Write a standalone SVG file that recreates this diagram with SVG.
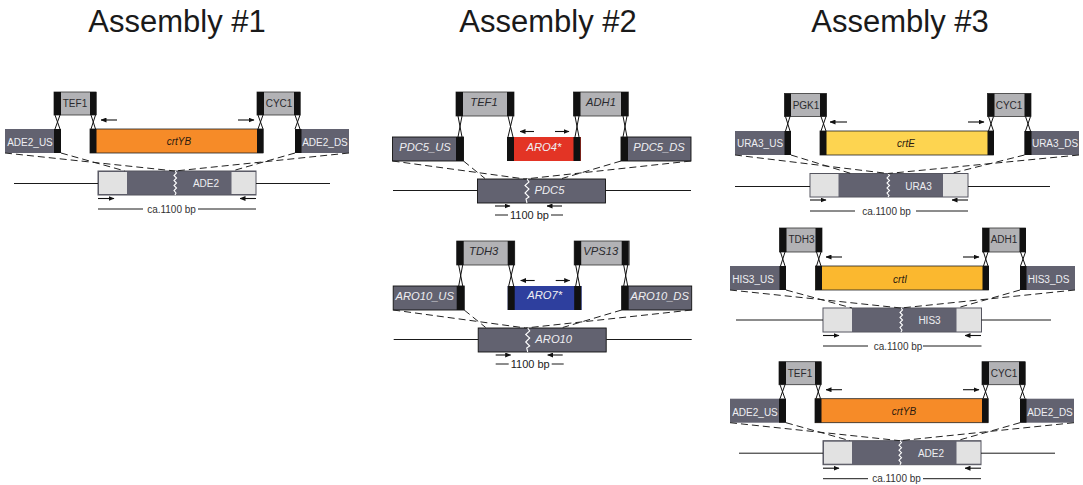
<svg xmlns="http://www.w3.org/2000/svg" width="1083" height="485" viewBox="0 0 1083 485">
<style>
text{font-family:"Liberation Sans",Arial,sans-serif;text-anchor:middle}
.t{font-size:31px;fill:#1a1a1a}
.l{font-size:10px;fill:#2a2a2e}
.w{font-size:10px;fill:#eeeef2}
.i{font-size:11.2px;font-style:italic}
.g{font-size:10px;font-style:italic;fill:#2a1a10}
.s{font-size:10px;fill:#333}
.b{font-size:11px;fill:#222}
.pr{fill:#b2b2b5;stroke:#333;stroke-width:.8}
.us{fill:#626270}
.ub{fill:#626270;stroke:#111;stroke-width:.9}
.cap{fill:#111}
.lo{fill:#626270;stroke:#55555f;stroke-width:1}
.lg{fill:#e2e2e2}
.gb{stroke:#222;stroke-width:.8}
.ln{fill:none;stroke:#1a1a1a;stroke-width:1}
.ar{fill:none;stroke:#111;stroke-width:1.1;marker-end:url(#h)}
.x{fill:none;stroke:#111;stroke-width:1}
.d{fill:none;stroke:#222;stroke-width:1;stroke-dasharray:7 4}
.z{fill:none;stroke:#fff;stroke-width:1.1}
</style>
<defs>
<marker id="h" markerUnits="userSpaceOnUse" markerWidth="6" markerHeight="5" refX="5.5" refY="2.5" orient="auto"><path d="M0 0L6 2.5L0 5Z" fill="#111"/></marker>
</defs>
<text class="t" x="177" y="32">Assembly #1</text>
<text class="t" x="548" y="32">Assembly #2</text>
<text class="t" x="900" y="32">Assembly #3</text>

<g id="asm1-ade2">
<g id="a1-tef1"><rect class="pr" x="54" y="92" width="42" height="23"/><rect class="cap" x="54" y="92" width="7" height="23"/><rect class="cap" x="90" y="92" width="6.500" height="23"/><text class="l" x="75" y="107">TEF1</text></g>
<g id="a1-cyc1"><rect class="pr" x="257" y="92" width="43" height="23"/><rect class="cap" x="257" y="92" width="7" height="23"/><rect class="cap" x="294" y="92" width="6.500" height="23"/><text class="l" x="279" y="107">CYC1</text></g>
<g id="a1-us"><rect class="us" x="5" y="129" width="56" height="24"/><rect class="cap" x="54" y="129" width="7" height="24"/><text class="w" x="30" y="146">ADE2_US</text></g>
<g id="a1-gene"><rect x="90" y="129" width="173" height="24" fill="#f68b28" class="gb"/><rect class="cap" x="90" y="129" width="6.500" height="24"/><rect class="cap" x="257" y="129" width="6.500" height="24"/><text class="g" x="179" y="145">crtYB</text></g>
<g id="a1-ds"><rect class="us" x="295" y="129" width="54" height="24"/><rect class="cap" x="295" y="129" width="6.500" height="24"/><text class="w" x="325" y="146">ADE2_DS</text></g>
<g id="a1-locus"><rect class="lo" x="98" y="171" width="158" height="24"/><rect class="lg" x="99" y="172" width="28" height="22"/><rect class="lg" x="231.500" y="172" width="24" height="22"/><polyline class="z" points="175,171 176.500,173 174,175.500 176.500,178 174,180.500 176.500,183 174,185.500 176.500,188 174,190.500 176,193 175,195"/><text class="w" x="206" y="187">ADE2</text></g>
<g id="a1-connectors">
<path class="ln" d="M14 183.500H98M256 183.500H330M98 209H143M198 209H256"/>
<path class="x" d="M55 115L60 129M60 115L55 129M91 115L95.500 129M95.500 115L91 129M258 115L263 129M263 115L258 129M295 115L300 129M300 115L295 129"/>
<path class="d" d="M5 153L175 171M61 153L125 171M349 153L175 171M295 153L232 171"/>
<path class="ar" d="M117 120H101"/><path class="ar" d="M238 120H254"/><path class="ar" d="M98 198.500H114"/><path class="ar" d="M256 198.500H240"/>
</g>
<text class="s" x="171.500" y="212.500">ca.1100 bp</text>
</g>

<g id="asm2-pdc5">
<g id="a2-tef1"><rect class="pr" x="456" y="92" width="58" height="24"/><rect class="cap" x="456" y="92" width="7" height="24"/><rect class="cap" x="507" y="92" width="7" height="24"/><text class="l i" x="484" y="106">TEF1</text></g>
<g id="a2-adh1"><rect class="pr" x="573.500" y="92" width="55" height="24"/><rect class="cap" x="573.500" y="92" width="7" height="24"/><rect class="cap" x="621" y="92" width="7" height="24"/><text class="l i" x="601" y="106">ADH1</text></g>
<g id="a2-us"><rect class="ub" x="392.500" y="137" width="71" height="24"/><rect class="cap" x="456" y="137" width="7.500" height="24"/><text class="w i" x="425" y="151">PDC5_US</text></g>
<g id="a2-gene"><rect x="507" y="137" width="74" height="24" fill="#e33425"/><rect class="cap" x="507" y="137" width="7" height="24"/><rect class="cap" x="573.500" y="137" width="7" height="24"/><text class="w i" x="544" y="151">ARO4*</text></g>
<g id="a2-ds"><rect class="ub" x="621" y="137" width="70" height="24"/><rect class="cap" x="621" y="137" width="7" height="24"/><text class="w i" x="659" y="151">PDC5_DS</text></g>
<g id="a2-locus"><rect class="ub" x="477.500" y="179" width="128" height="24"/><polyline class="z" points="527,179 529,182 525,185.500 529,189 525,193 529,197 526,199 527,203"/><text class="w i" x="549.500" y="194">PDC5</text></g>
<g id="a2-connectors">
<path class="ln" d="M393 190.500H477.500M605.500 190.500H691M495 215H508M551 215H563"/>
<path class="x" d="M458 116L462 137M462 116L458 137M508 116L513 137M513 116L508 137M575 116L579 137M579 116L575 137M623 116L627 137M627 116L623 137"/>
<path class="d" d="M392.500 161L525 179M463.500 161L485 178.500M691 161L525 179M621 161L562 178.500"/>
<path class="ar" d="M534 131.500H520"/><path class="ar" d="M555 131.500H569"/><path class="ar" d="M495 206H510"/><path class="ar" d="M562 206H547"/>
</g>
<text class="b" x="529.500" y="219">1100 bp</text>
</g>

<g id="asm2-aro10" transform="translate(0.700,149)">
<g id="b2-tdh3"><rect class="pr" x="456" y="92" width="58" height="24"/><rect class="cap" x="456" y="92" width="7" height="24"/><rect class="cap" x="507" y="92" width="7" height="24"/><text class="l i" x="483" y="106">TDH3</text></g>
<g id="b2-vps13"><rect class="pr" x="573.500" y="92" width="55" height="24"/><rect class="cap" x="573.500" y="92" width="7" height="24"/><rect class="cap" x="621" y="92" width="7" height="24"/><text class="l i" x="600" y="106">VPS13</text></g>
<g id="b2-us"><rect class="ub" x="392.500" y="137" width="71" height="24"/><rect class="cap" x="456" y="137" width="7.500" height="24"/><text class="w i" x="424" y="151">ARO10_US</text></g>
<g id="b2-gene"><rect x="507" y="137" width="74" height="24" fill="#2e3f9e"/><rect class="cap" x="507" y="137" width="7" height="24"/><rect class="cap" x="573.500" y="137" width="7" height="24"/><text class="w i" x="544" y="150">ARO7*</text></g>
<g id="b2-ds"><rect class="ub" x="621" y="137" width="70" height="24"/><rect class="cap" x="621" y="137" width="7" height="24"/><text class="w i" x="659" y="151">ARO10_DS</text></g>
<g id="b2-locus"><rect class="ub" x="477.500" y="179" width="128" height="24"/><polyline class="z" points="527,179 529,182 525,185.500 529,189 525,193 529,197 526,199 527,203"/><text class="w i" x="553" y="194">ARO10</text></g>
<g id="b2-connectors">
<path class="ln" d="M393 190.500H477.500M605.500 190.500H691M495 215H508M551 215H563"/>
<path class="x" d="M458 116L462 137M462 116L458 137M508 116L513 137M513 116L508 137M575 116L579 137M579 116L575 137M623 116L627 137M627 116L623 137"/>
<path class="d" d="M392.500 161L525 179M463.500 161L485 178.500M691 161L525 179M621 161L562 178.500"/>
<path class="ar" d="M534 131.500H520"/><path class="ar" d="M555 131.500H569"/><path class="ar" d="M495 206H510"/><path class="ar" d="M562 206H547"/>
</g>
<text class="b" x="529.500" y="219">1100 bp</text>
</g>

<g id="asm3-ura3">
<g id="c3-pgk1"><rect class="pr" x="784.500" y="93.500" width="42" height="23"/><rect class="cap" x="784.500" y="93.500" width="6.500" height="23"/><rect class="cap" x="820" y="93.500" width="6.500" height="23"/><text class="l" x="806" y="108.500">PGK1</text></g>
<g id="c3-cyc1"><rect class="pr" x="987.500" y="93.500" width="43.500" height="23"/><rect class="cap" x="987.500" y="93.500" width="7" height="23"/><rect class="cap" x="1024.500" y="93.500" width="6.500" height="23"/><text class="l" x="1009" y="108.500">CYC1</text></g>
<g id="c3-us"><rect class="us" x="735" y="131" width="56" height="24"/><rect class="cap" x="784.500" y="131" width="6.500" height="24"/><text class="w" x="760" y="147">URA3_US</text></g>
<g id="c3-gene"><rect x="820" y="131" width="173.500" height="24" fill="#fdd450" class="gb"/><rect class="cap" x="820" y="131" width="6.500" height="24"/><rect class="cap" x="987.500" y="131" width="6.500" height="24"/><text class="g" x="906" y="147">crtE</text></g>
<g id="c3-ds"><rect class="us" x="1024.500" y="131" width="54.500" height="24"/><rect class="cap" x="1024.500" y="131" width="7" height="24"/><text class="w" x="1055" y="147">URA3_DS</text></g>
<g id="c3-locus"><rect class="lo" x="810" y="173.500" width="158" height="23.500"/><rect class="lg" x="810.500" y="174" width="28" height="22.500"/><rect class="lg" x="943" y="174" width="24.500" height="22.500"/><polyline class="z" points="888,173.500 889.500,175.500 887,178 889.500,180.500 887,183 889.500,185.500 887,188 889.500,190.500 887,193 889,195.500 888,197"/><text class="w" x="918.500" y="189.500">URA3</text></g>
<g id="c3-connectors">
<path class="ln" d="M735 186.500H810M968 186.500H1050M810 211H855M916 211H968"/>
<path class="x" d="M785.500 116.500L790 131M790 116.500L785.500 131M821 116.500L826 131M826 116.500L821 131M988.500 116.500L993.500 131M993.500 116.500L988.500 131M1025.500 116.500L1030.500 131M1030.500 116.500L1025.500 131"/>
<path class="d" d="M735 155L888 173.500M791 155L851 173.500M1079 155L888 173.500M1024.500 155L951 173.500"/>
<path class="ar" d="M847 122H830"/><path class="ar" d="M968 122H984"/><path class="ar" d="M810 200H826"/><path class="ar" d="M968 200H952"/>
</g>
<text class="s" x="886.500" y="214.500">ca.1100 bp</text>
</g>

<g id="asm3-his3">
<g id="d3-tdh3"><rect class="pr" x="779.500" y="228" width="42.500" height="24"/><rect class="cap" x="779.500" y="228" width="7" height="24"/><rect class="cap" x="815.500" y="228" width="6.500" height="24"/><text class="l" x="801.500" y="243">TDH3</text></g>
<g id="d3-adh1"><rect class="pr" x="982.500" y="228" width="43" height="24"/><rect class="cap" x="982.500" y="228" width="7" height="24"/><rect class="cap" x="1019.500" y="228" width="6.500" height="24"/><text class="l" x="1004" y="243">ADH1</text></g>
<g id="d3-us"><rect class="us" x="730" y="266" width="56" height="24"/><rect class="cap" x="779.500" y="266" width="6.500" height="24"/><text class="w" x="753" y="283">HIS3_US</text></g>
<g id="d3-gene"><rect x="815.500" y="266" width="173" height="24" fill="#fbb82f" class="gb"/><rect class="cap" x="815.500" y="266" width="6.500" height="24"/><rect class="cap" x="982.500" y="266" width="6.500" height="24"/><text class="g" x="900" y="283">crtI</text></g>
<g id="d3-ds"><rect class="us" x="1020" y="266" width="55" height="24"/><rect class="cap" x="1020" y="266" width="6.500" height="24"/><text class="w" x="1048.500" y="283">HIS3_DS</text></g>
<g id="d3-locus"><rect class="lo" x="823" y="308" width="158.500" height="24"/><rect class="lg" x="823.500" y="308.500" width="28.500" height="23"/><rect class="lg" x="956.500" y="308.500" width="24.500" height="23"/><polyline class="z" points="901,308 902.500,310 900,312.500 902.500,315 900,317.500 902.500,320 900,322.500 902.500,325 900,327.500 902,330 901,332"/><text class="w" x="929.500" y="324">HIS3</text></g>
<g id="d3-connectors">
<path class="ln" d="M736 320H823M981.500 320H1051M823 346H868M923 346H981.500"/>
<path class="x" d="M780.500 252L785 266M785 252L780.500 266M816.500 252L821 266M821 252L816.500 266M983.500 252L988 266M988 252L983.500 266M1020.500 252L1025.500 266M1025.500 252L1020.500 266"/>
<path class="d" d="M730 290L901 308M786 290L852 308M1075 290L901 308M1020 290L957 308"/>
<path class="ar" d="M842 257H826"/><path class="ar" d="M963 257H979"/><path class="ar" d="M823 335.500H839"/><path class="ar" d="M981 335.500H965"/>
</g>
<text class="s" x="898" y="349.500">ca.1100 bp</text>
</g>

<g id="asm3-ade2" transform="translate(725,269.700)">
<g id="e3-tef1"><rect class="pr" x="54" y="92" width="42" height="23"/><rect class="cap" x="54" y="92" width="7" height="23"/><rect class="cap" x="90" y="92" width="6.500" height="23"/><text class="l" x="75" y="107">TEF1</text></g>
<g id="e3-cyc1"><rect class="pr" x="257" y="92" width="43" height="23"/><rect class="cap" x="257" y="92" width="7" height="23"/><rect class="cap" x="294" y="92" width="6.500" height="23"/><text class="l" x="279" y="107">CYC1</text></g>
<g id="e3-us"><rect class="us" x="5" y="129" width="56" height="24"/><rect class="cap" x="54" y="129" width="7" height="24"/><text class="w" x="30" y="146">ADE2_US</text></g>
<g id="e3-gene"><rect x="90" y="129" width="173" height="24" fill="#f68b28" class="gb"/><rect class="cap" x="90" y="129" width="6.500" height="24"/><rect class="cap" x="257" y="129" width="6.500" height="24"/><text class="g" x="179" y="145">crtYB</text></g>
<g id="e3-ds"><rect class="us" x="295" y="129" width="54" height="24"/><rect class="cap" x="295" y="129" width="6.500" height="24"/><text class="w" x="325" y="146">ADE2_DS</text></g>
<g id="e3-locus"><rect class="lo" x="98" y="171" width="158" height="24"/><rect class="lg" x="99" y="172" width="28" height="22"/><rect class="lg" x="231.500" y="172" width="24" height="22"/><polyline class="z" points="175,171 176.500,173 174,175.500 176.500,178 174,180.500 176.500,183 174,185.500 176.500,188 174,190.500 176,193 175,195"/><text class="w" x="206" y="187">ADE2</text></g>
<g id="e3-connectors">
<path class="ln" d="M14 183.500H98M256 183.500H330M98 209H143M198 209H256"/>
<path class="x" d="M55 115L60 129M60 115L55 129M91 115L95.500 129M95.500 115L91 129M258 115L263 129M263 115L258 129M295 115L300 129M300 115L295 129"/>
<path class="d" d="M5 153L175 171M61 153L125 171M349 153L175 171M295 153L232 171"/>
<path class="ar" d="M117 120H101"/><path class="ar" d="M238 120H254"/><path class="ar" d="M98 198.500H114"/><path class="ar" d="M256 198.500H240"/>
</g>
<text class="s" x="171.500" y="212.500">ca.1100 bp</text>
</g>
</svg>
